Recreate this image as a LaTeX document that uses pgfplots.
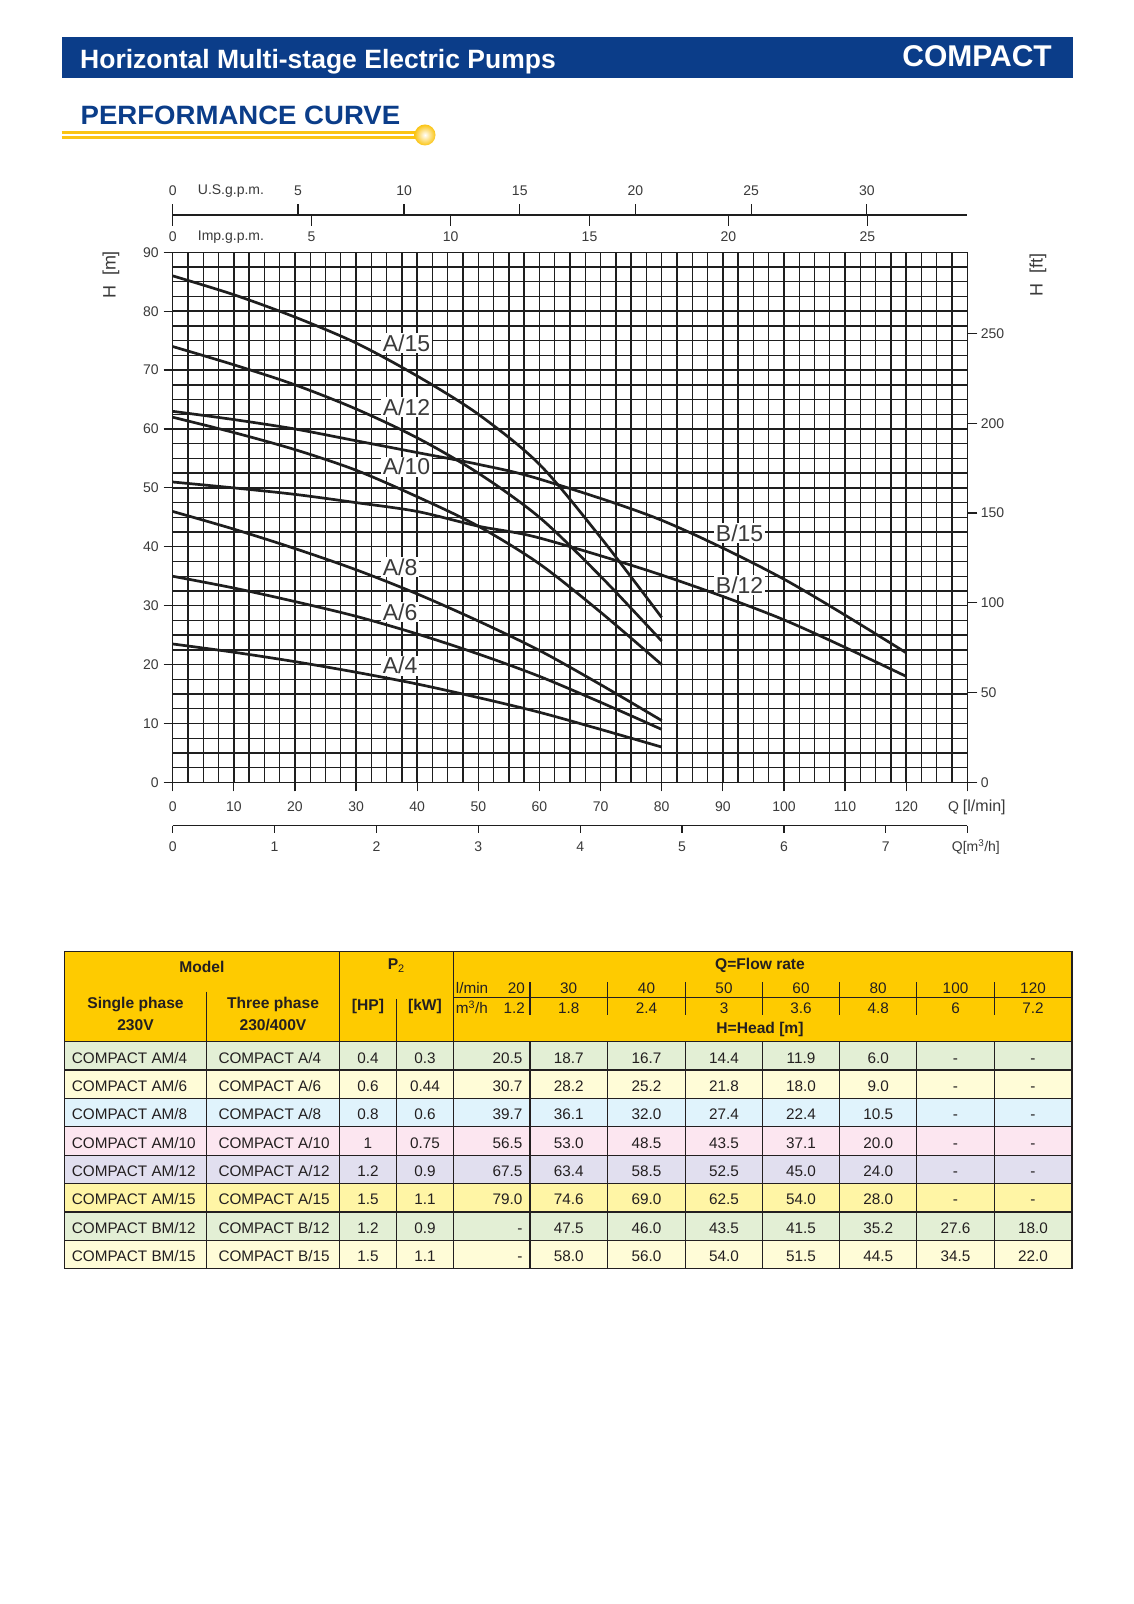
\documentclass[border=0pt]{standalone}
\usepackage{pgfplots}
\pgfplotsset{compat=1.18}
\usepackage{fontspec}
\setmainfont{Liberation Sans}

\definecolor{hblue}{HTML}{0B3D89}
\definecolor{ylw}{HTML}{FBC412}
\definecolor{hdr}{HTML}{FECB00}
\definecolor{gridc}{HTML}{1E1E1E}
\definecolor{curvec}{HTML}{1E1E1E}
\definecolor{lbl}{HTML}{3A3A3A}
\definecolor{tline}{HTML}{231F20}
\definecolor{rg}{HTML}{E3EFD5}
\definecolor{ry}{HTML}{FFFCD7}
\definecolor{rb}{HTML}{E0F3FC}
\definecolor{rp}{HTML}{FCE6F0}
\definecolor{rl}{HTML}{E1DFEF}
\definecolor{rY}{HTML}{FFF5A5}

\newcommand\fs[1]{\fontsize{#1}{#1}\selectfont}
\tikzset{
  tn/.style={inner sep=0pt, font=\fs{15.3}, text=tline},
  th/.style={inner sep=0pt, font=\fs{15.6}\bfseries, text=tline},
  tl/.style={draw=tline, line width=1.2pt},
  clbl/.style={anchor=west, fill=white, inner sep=1.5pt, font=\fs{23}, text=lbl},
  scl/.style={draw=gridc, line width=1.2pt},
  sl/.style={inner sep=0pt, font=\fs{14}, text=lbl},
  curve/.style={draw=curvec, line width=2.7pt, smooth, no marks},
}

% table row: idx, colour, single, three, HP, kW
\newcommand\trow[6]{%
  \pgfmathsetmacro\yt{1041.7+28.37*#1}%
  \pgfmathsetmacro\yb{\yt+21.4}%
  \fill[#2] (64.3,\yt) rectangle (1072,\yt+28.37);
  \node[tn,anchor=base west] at (71.7,\yb) {#3};
  \node[tn,anchor=base west] at (218.3,\yb) {#4};
  \node[tn,anchor=base] at (368,\yb) {#5};
  \node[tn,anchor=base] at (425,\yb) {#6};
}
% head values: idx, Q=20,30,40,50,60,80,100,120
\newcommand\tvals[9]{%
  \pgfmathsetmacro\yb{1041.7+28.37*#1+21.4}%
  \node[tn,anchor=base east] at (522.7,\yb) {#2};
  \node[tn,anchor=base] at (568.7,\yb) {#3};
  \node[tn,anchor=base] at (646.5,\yb) {#4};
  \node[tn,anchor=base] at (724,\yb) {#5};
  \node[tn,anchor=base] at (801,\yb) {#6};
  \node[tn,anchor=base] at (878.2,\yb) {#7};
  \node[tn,anchor=base] at (955.5,\yb) {#8};
  \node[tn,anchor=base] at (1033,\yb) {#9};
}
% top scales (positions in l/min)
\newcommand\us[2]{%
  \draw[scl] (axis cs:#1,90) ++(0,37.3pt) -- ++(0,11pt);
  \path (axis cs:#1,90) ++(0,61.3pt) node[sl]{#2};}
\newcommand\imp[2]{%
  \draw[scl] (axis cs:#1,90) ++(0,37.3pt) -- ++(0,-11pt);
  \path (axis cs:#1,90) ++(0,15.6pt) node[sl]{#2};}
\newcommand\mh[2]{%
  \draw[scl] (axis cs:#1,0) ++(0,-43.3pt) -- ++(0,-7.6pt);
  \path (axis cs:#1,0) ++(0,-64.3pt) node[sl]{#2};}

\begin{document}
\begin{tikzpicture}
\fill[white] (0,0) rectangle (1133pt,1604pt);
\useasboundingbox (0,0) rectangle (1133pt,1604pt);

\begin{scope}[x=1pt,y=-1pt,yshift=1604pt]
  % header bar
  \fill[hblue] (62,37) rectangle (1073,78);
  \node[anchor=base west, inner sep=0pt, text=white, font=\fs{26.5}\bfseries] at (80,68.5) {Horizontal Multi-stage Electric Pumps};
  \node[anchor=base east, inner sep=0pt, text=white, font=\fs{30}\bfseries] at (1052,67) {COMPACT};
  % section title
  \node[anchor=base west, inner sep=0pt, text=hblue, font=\fs{26.5}\bfseries] at (80.5,125) {\scalebox{1.04}[1]{PERFORMANCE CURVE}};
  \draw[ylw, line width=2.6pt] (61.7,132.7) -- (418,132.7);
  \draw[ylw, line width=2.6pt] (61.7,137.7) -- (418,137.7);
  \shade[inner color=white, outer color=ylw] (425,135) circle[radius=10.5];
  % axis titles
  \node[rotate=90, inner sep=0pt, font=\fs{18}, text=lbl] at (111,275) {H\ \ [m]};
  \node[rotate=90, inner sep=0pt, font=\fs{18}, text=lbl] at (1038,275) {H\ \ [ft]};

  % ---------- table ----------
  \fill[hdr] (64.3,951.7) rectangle (1072,1041.7);
  \node[th,anchor=base] at (201.8,972.3) {Model};
  \node[th,anchor=base] at (135.5,1009) {Single phase};
  \node[th,anchor=base] at (135.5,1030.3) {230V};
  \node[th,anchor=base] at (273,1009) {Three phase};
  \node[th,anchor=base] at (273,1030.3) {230/400V};
  \node[th,anchor=base] at (396.3,970) {P\textsubscript{\normalfont 2}};
  \node[th,anchor=base] at (368,1010.3) {[HP]};
  \node[th,anchor=base] at (425,1010.3) {[kW]};
  \node[th,anchor=base] at (760,970) {Q=Flow rate};
  \node[th,anchor=base] at (760,1033.3) {H=Head [m]};
  \node[tn,anchor=base west] at (455.7,993.3) {l/min};
  \node[tn,anchor=base west] at (455.7,1013.3) {m\textsuperscript{3}/h};
  \node[tn,anchor=base east] at (525,993.3) {20};
  \node[tn,anchor=base east] at (525,1013.3) {1.2};
  \node[tn,anchor=base] at (568.7,993.3) {30};
  \node[tn,anchor=base] at (568.7,1013.3) {1.8};
  \node[tn,anchor=base] at (646.5,993.3) {40};
  \node[tn,anchor=base] at (646.5,1013.3) {2.4};
  \node[tn,anchor=base] at (724,993.3) {50};
  \node[tn,anchor=base] at (724,1013.3) {3};
  \node[tn,anchor=base] at (801,993.3) {60};
  \node[tn,anchor=base] at (801,1013.3) {3.6};
  \node[tn,anchor=base] at (878.2,993.3) {80};
  \node[tn,anchor=base] at (878.2,1013.3) {4.8};
  \node[tn,anchor=base] at (955.5,993.3) {100};
  \node[tn,anchor=base] at (955.5,1013.3) {6};
  \node[tn,anchor=base] at (1033,993.3) {120};
  \node[tn,anchor=base] at (1033,1013.3) {7.2};

  \trow{0}{rg}{COMPACT AM/4}{COMPACT A/4}{0.4}{0.3}
  \tvals{0}{20.5}{18.7}{16.7}{14.4}{11.9}{6.0}{-}{-}
  \trow{1}{ry}{COMPACT AM/6}{COMPACT A/6}{0.6}{0.44}
  \tvals{1}{30.7}{28.2}{25.2}{21.8}{18.0}{9.0}{-}{-}
  \trow{2}{rb}{COMPACT AM/8}{COMPACT A/8}{0.8}{0.6}
  \tvals{2}{39.7}{36.1}{32.0}{27.4}{22.4}{10.5}{-}{-}
  \trow{3}{rp}{COMPACT AM/10}{COMPACT A/10}{1}{0.75}
  \tvals{3}{56.5}{53.0}{48.5}{43.5}{37.1}{20.0}{-}{-}
  \trow{4}{rl}{COMPACT AM/12}{COMPACT A/12}{1.2}{0.9}
  \tvals{4}{67.5}{63.4}{58.5}{52.5}{45.0}{24.0}{-}{-}
  \trow{5}{rY}{COMPACT AM/15}{COMPACT A/15}{1.5}{1.1}
  \tvals{5}{79.0}{74.6}{69.0}{62.5}{54.0}{28.0}{-}{-}
  \trow{6}{rg}{COMPACT BM/12}{COMPACT B/12}{1.2}{0.9}
  \tvals{6}{-}{47.5}{46.0}{43.5}{41.5}{35.2}{27.6}{18.0}
  \trow{7}{ry}{COMPACT BM/15}{COMPACT B/15}{1.5}{1.1}
  \tvals{7}{-}{58.0}{56.0}{54.0}{51.5}{44.5}{34.5}{22.0}

  % table lines
  \foreach \yy in {1041.7,1070.07,1098.44,1126.81,1155.18,1183.55,1211.92,1240.29}
    \draw[tl] (64.3,\yy) -- (1072,\yy);
  \draw[tl] (453.3,997.3) -- (1072,997.3);
  \draw[tl] (206.7,991.7) -- (206.7,1268.66);
  \draw[tl] (339.3,951.7) -- (339.3,1268.66);
  \draw[tl] (396.7,999) -- (396.7,1268.66);
  \draw[tl] (453.3,951.7) -- (453.3,1268.66);
  \foreach \xx in {530,607.3,685.7,762.3,839.7,916.7,994.3} {
    \draw[tl] (\xx,982.3) -- (\xx,1015);
    \draw[tl] (\xx,1041.7) -- (\xx,1268.66);
  }
  \draw[tl] (64.3,951.7) rectangle (1072,1268.66);
\end{scope}

% ---------- main chart ----------
\begin{axis}[
  at={(172.7pt,821.6pt)}, anchor=south west,
  width=794.6pt, height=530.1pt, scale only axis,
  xmin=0, xmax=130, ymin=0, ymax=90,
  xtick={0,10,...,130},
  xticklabels={0,10,20,30,40,50,60,70,80,90,100,110,120,{}},
  ytick={0,10,...,90},
  yticklabels={0,10,20,30,40,50,60,70,80,90},
  minor x tick num=3, minor y tick num=3,
  grid=both,
  major grid style={draw=gridc, line width=1.4pt},
  minor grid style={draw=gridc, line width=1.4pt},
  axis line style={draw=gridc, line width=1.4pt},
  tick style={draw=gridc, line width=1.2pt},
  tick align=outside, major tick length=9pt, minor tick length=0pt,
  tick pos=left,
  tick label style={font=\fs{14}, text=lbl},
  xticklabel style={yshift=-7pt},
  yticklabel style={xshift=-1.5pt},
  clip=false,
]
% curve labels
\node[clbl] at (axis cs:34.1,74.55) {A/15};
\node[clbl] at (axis cs:34.1,63.7) {A/12};
\node[clbl] at (axis cs:34.1,53.6) {A/10};
\node[clbl] at (axis cs:34.1,36.6) {A/8};
\node[clbl] at (axis cs:34.1,28.9) {A/6};
\node[clbl] at (axis cs:34.1,19.8) {A/4};
\node[clbl] at (axis cs:88.6,42.3) {B/15};
\node[clbl] at (axis cs:88.6,33.5) {B/12};

% curves (Q [l/min], H [m])
\addplot[curve] coordinates {(0,23.5)(10,22.1)(20,20.5)(30,18.7)(40,16.7)(50,14.4)(60,11.9)(70,9.0)(80,6.0)};
\addplot[curve] coordinates {(0,35)(10,33.0)(20,30.7)(30,28.2)(40,25.2)(50,21.8)(60,18.0)(70,13.6)(80,9.0)};
\addplot[curve] coordinates {(0,46)(10,43.0)(20,39.7)(30,36.1)(40,32.0)(50,27.4)(60,22.4)(70,16.6)(80,10.5)};
\addplot[curve] coordinates {(0,62)(10,59.4)(20,56.5)(30,53.0)(40,48.5)(50,43.5)(60,37.1)(70,28.9)(80,20.0)};
\addplot[curve] coordinates {(0,74)(10,70.9)(20,67.5)(30,63.4)(40,58.5)(50,52.5)(60,45.0)(70,35.0)(80,24.0)};
\addplot[curve] coordinates {(0,86)(10,82.8)(20,79.0)(30,74.6)(40,69.0)(50,62.5)(60,54.0)(70,41.6)(80,28.0)};
\addplot[curve] coordinates {(0,51)(10,50.0)(20,48.9)(30,47.5)(40,46.0)(50,43.5)(60,41.5)(80,35.2)(100,27.6)(120,18.0)};
\addplot[curve] coordinates {(0,63)(10,61.6)(20,60.0)(30,58.0)(40,56.0)(50,54.0)(60,51.5)(80,44.5)(100,34.5)(120,22.0)};

% top scales
\draw[scl, yshift=37.3pt] (axis cs:0,90) -- (axis cs:130,90);
\us{0}{0}\us{20.5}{5}\us{37.85}{10}\us{56.78}{15}\us{75.71}{20}\us{94.64}{25}\us{113.56}{30}
\imp{0}{0}\imp{22.73}{5}\imp{45.46}{10}\imp{68.19}{15}\imp{90.92}{20}\imp{113.65}{25}
\node[sl, anchor=west, xshift=25pt, yshift=61.3pt] at (axis cs:0,90) {U.S.g.p.m.};
\node[sl, anchor=west, xshift=25pt, yshift=15.6pt] at (axis cs:0,90) {Imp.g.p.m.};
% bottom m3/h scale
\draw[scl, yshift=-43.3pt] (axis cs:0,0) -- (axis cs:130,0);
\mh{0}{0}\mh{16.667}{1}\mh{33.333}{2}\mh{50}{3}\mh{66.667}{4}\mh{83.333}{5}\mh{100}{6}\mh{116.667}{7}\mh{130}{}
\node[sl, anchor=west, xshift=-19.3pt, yshift=-24.6pt] at (axis cs:130,0) {Q \fs{16}[l/min]};
\node[sl, anchor=west, xshift=-15.6pt, yshift=-64.3pt] at (axis cs:130,0) {Q[m\textsuperscript{3}/h]};
\end{axis}

% right H [ft] scale
\begin{axis}[
  at={(172.7pt,821.6pt)}, anchor=south west,
  width=794.6pt, height=530.1pt, scale only axis,
  xmin=0, xmax=130, ymin=0, ymax=295.2756,
  axis x line=none, axis y line*=right,
  ytick={0,50,...,250},
  yticklabels={0,50,100,150,200,250},
  axis line style={draw=gridc, line width=1.4pt},
  tick style={draw=gridc, line width=1.2pt},
  tick align=outside, major tick length=10pt,
  tick label style={font=\fs{14}, text=lbl},
]
\addplot[draw=none] coordinates {(0,0)};
\end{axis}
\end{tikzpicture}
\end{document}
